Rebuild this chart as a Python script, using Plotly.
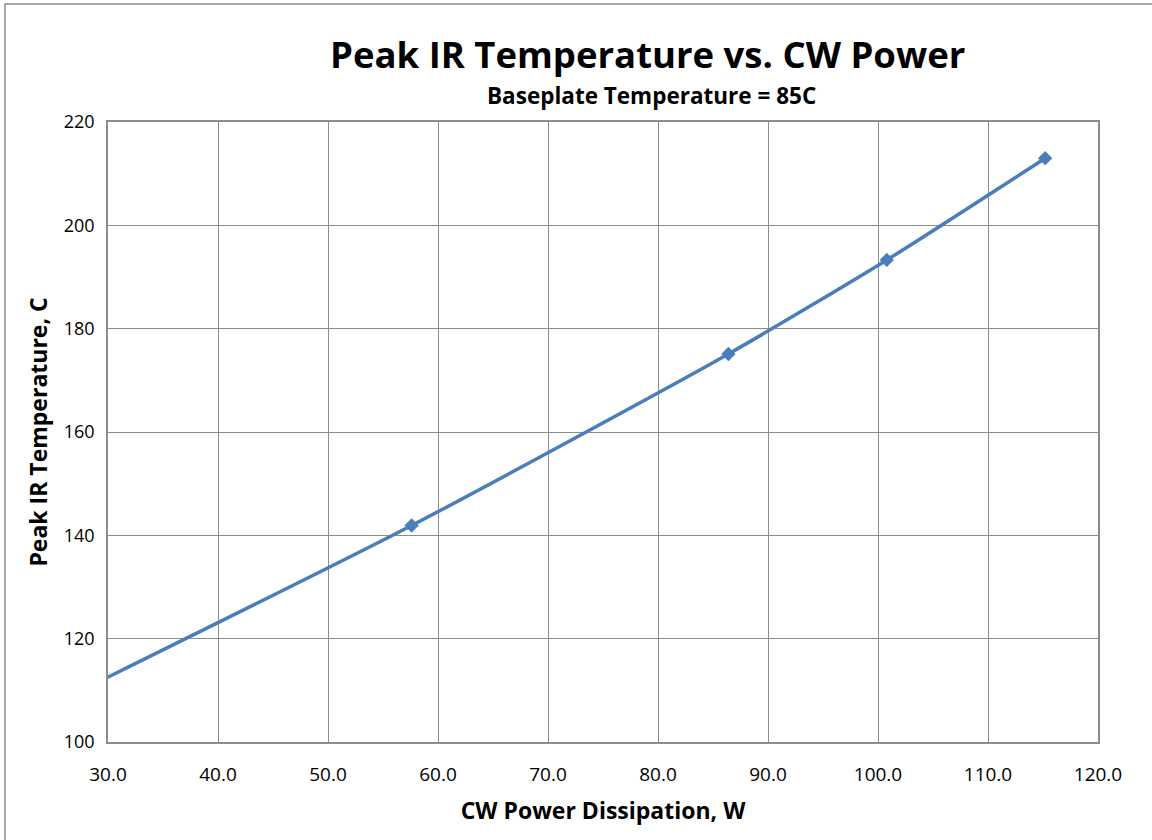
import plotly.graph_objects as go

power_w = [28.8, 57.6, 86.4, 100.8, 115.2]
peak_temp_c = [111.3, 141.9, 175.1, 193.3, 213.0]

x_ticks = [30, 40, 50, 60, 70, 80, 90, 100, 110, 120]
y_ticks = [100, 120, 140, 160, 180, 200, 220]

FONT = "'Open Sans', sans-serif"
GRID = "#8c8c8c"

fig = go.Figure()
fig.add_trace(go.Scatter(
    x=power_w, y=peak_temp_c, mode="lines+markers",
    line=dict(color="#4a7ebb", width=3.5, shape="spline", smoothing=0.6),
    marker=dict(symbol="diamond", size=11, color="#4a7ebb"),
    cliponaxis=True, showlegend=False,
))

L, R, T, B = 108, 54, 122, 98
fig.update_layout(
    width=1152, height=840,
    margin=dict(l=L, r=R, t=T, b=B),
    paper_bgcolor="white", plot_bgcolor="white",
    font=dict(family=FONT, color="black"),
    xaxis=dict(
        range=[30, 120], tickvals=x_ticks, tickformat=".1f",
        showgrid=True, gridcolor=GRID, gridwidth=1,
        showline=True, linecolor=GRID, linewidth=1.5, mirror=True,
        ticks="", ticklabelstandoff=14, tickfont=dict(size=19),
        zeroline=False,
        title=dict(text="<b>CW Power Dissipation, W</b>", font=dict(size=23), standoff=17),
    ),
    yaxis=dict(
        range=[100, 220], tickvals=y_ticks,
        showgrid=True, gridcolor=GRID, gridwidth=1,
        showline=True, linecolor=GRID, linewidth=1.5, mirror=True,
        ticks="", ticklabelstandoff=8, tickfont=dict(size=18),
        zeroline=False,
        title=dict(text="<b>Peak IR Temperature, C</b>", font=dict(size=23), standoff=10),
    ),
    shapes=[dict(type="rect", xref="paper", yref="paper",
                 x0=(5 - L) / 990, x1=1.2, y0=-0.3, y1=1 + (T - 4) / 620,
                 line=dict(color="#8c8c8c", width=1.5), layer="below")],
    annotations=[
        dict(text="<b>Peak IR Temperature vs. CW Power</b>", xref="paper", yref="paper",
             x=(647 - L) / 990, y=1 + (T - 54) / 620, xanchor="center", yanchor="middle",
             showarrow=False, font=dict(size=36.5, family=FONT)),
        dict(text="<b>Baseplate Temperature = 85C</b>", xref="paper", yref="paper",
             x=(651 - L) / 990, y=1 + (T - 96) / 620, xanchor="center", yanchor="middle",
             showarrow=False, font=dict(size=22.5, family=FONT)),
    ],
)

fig.write_html("out.html", config={"displayModeBar": False},
               post_script="document.body.style.margin='0px';")
